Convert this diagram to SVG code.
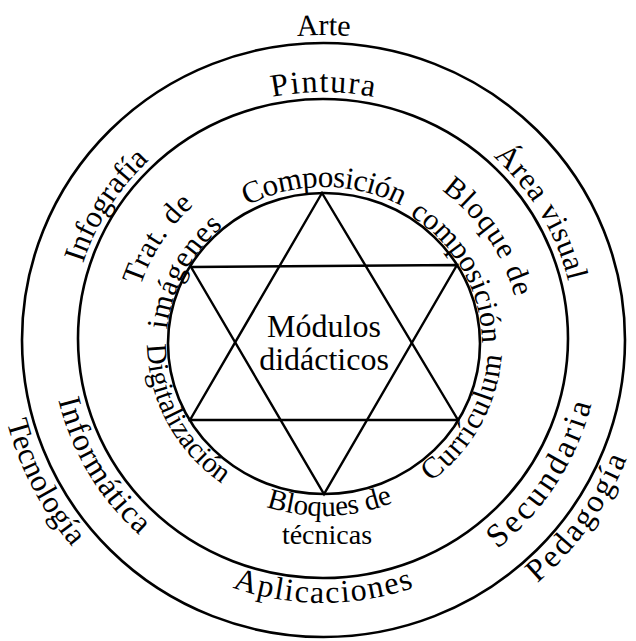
<svg xmlns="http://www.w3.org/2000/svg" width="636" height="641" viewBox="0 0 636 641">
<style>
  .ring { fill: none; stroke: #000; stroke-width: 2.6; }
  .star { fill: none; stroke: #000; stroke-width: 2.4; stroke-linejoin: miter; }
  text { font-family: "Liberation Serif", "Times New Roman", serif; fill: #000; text-anchor: middle; }
  .lo { font-size: 31px; }
  .li { font-size: 30px; }
</style>
<defs>
  <path id="pArte" d="M14,340 A309.5,305 0 0 1 633,340"/>
  <path id="pPintura" d="M71,338.5 A252,246.5 0 0 1 575,338.5"/>
  <path id="pInfografia" d="M191.3,548.7 A252,246.5 0 0 1 454.7,128.3"/>
  <path id="pArea" d="M197,125 A252,246.5 0 0 1 449,552"/>
  <path id="pAplic" d="M53,338.5 A270,264.5 0 0 0 593,338.5"/>
  <path id="pInform" d="M187,107.7 A272,266.5 0 0 0 459,569.3"/>
  <path id="pSecund" d="M175.7,569.6 A278,272.5 0 0 0 470.3,107.4"/>
  <path id="pTecno" d="M174.8,52.2 A327.5,323 0 0 0 472.2,627.8"/>
  <path id="pPedag" d="M134.5,606.2 A329.5,325 0 0 0 512.5,73.8"/>
  <path id="pCompo" d="M162,343.5 A162,156.5 0 0 1 486,343.5"/>
  <path id="pImag" d="M250.9,482 A161,155.5 0 0 1 397.1,205"/>
  <path id="pTrat" d="M220.1,505 A196,190.5 0 0 1 427.9,182"/>
  <path id="pCompo2" d="M249.3,208 A159,153.5 0 0 1 398.7,479"/>
  <path id="pBloque" d="M215.1,180.4 A200,194.5 0 0 1 432.9,506.6"/>
  <path id="pDigit" d="M243.2,189.8 A178,172.5 0 0 0 404.8,497.2"/>
  <path id="pCurri" d="M240.4,495.8 A178,172.5 0 0 0 407.6,191.2"/>
  <path id="pBloques" d="M146.1,349.5 A178,172.5 0 0 0 501.9,337.5"/>
</defs>

<g id="rings">
  <ellipse id="outer-ring" class="ring" cx="323.5" cy="340" rx="301.5" ry="297"/>
  <ellipse id="middle-ring" class="ring" cx="323" cy="338.5" rx="245" ry="239.5"/>
  <ellipse id="inner-ring" class="ring" cx="324" cy="343.5" rx="156" ry="150.5"/>
</g>

<g id="connectors">
  <polygon id="star-up" class="star" points="322,193 190,420 458,420"/>
  <polygon id="star-down" class="star" points="191,267 457,265 324,494"/>
</g>

<g id="outer-labels" class="lo">
  <g id="arte"><text font-size="30"><textPath href="#pArte" startOffset="50%">Arte</textPath></text></g>
  <g id="tecnologia"><text><textPath href="#pTecno" startOffset="50%" textLength="142" lengthAdjust="spacing">Tecnología</textPath></text></g>
  <g id="pedagogia"><text font-size="32"><textPath href="#pPedag" startOffset="50%" textLength="155" lengthAdjust="spacing">Pedagogía</textPath></text></g>
</g>

<g id="ring-labels" class="lo">
  <g id="pintura"><text font-size="32"><textPath href="#pPintura" startOffset="50%" textLength="102" lengthAdjust="spacing">Pintura</textPath></text></g>
  <g id="infografia"><text><textPath href="#pInfografia" startOffset="50%">Infografía</textPath></text></g>
  <g id="area-visual"><text><textPath href="#pArea" startOffset="50%" textLength="148" lengthAdjust="spacing">Área visual</textPath></text></g>
  <g id="informatica"><text font-size="32"><textPath href="#pInform" startOffset="50%" textLength="160" lengthAdjust="spacing">Informática</textPath></text></g>
  <g id="secundaria"><text font-size="33"><textPath href="#pSecund" startOffset="50%" textLength="176" lengthAdjust="spacing">Secundaria</textPath></text></g>
  <g id="aplicaciones"><text font-size="32"><textPath href="#pAplic" startOffset="50%" textLength="185" lengthAdjust="spacing">Aplicaciones</textPath></text></g>
</g>

<g id="inner-labels" class="li">
  <g id="composicion"><text font-size="31"><textPath href="#pCompo" startOffset="50%" textLength="160" lengthAdjust="spacing">Composición</textPath></text></g>
  <g id="trat-imagenes">
    <text><textPath href="#pTrat" startOffset="50%" textLength="98" lengthAdjust="spacing">Trat. de</textPath></text>
    <text><textPath href="#pImag" startOffset="50%" textLength="120" lengthAdjust="spacing">imágenes</textPath></text>
  </g>
  <g id="bloque-composicion">
    <text><textPath href="#pBloque" startOffset="50%" textLength="132" lengthAdjust="spacing">Bloque de</textPath></text>
    <text><textPath href="#pCompo2" startOffset="50%">composición</textPath></text>
  </g>
  <g id="digitalizacion"><text font-size="29"><textPath href="#pDigit" startOffset="50%">Digitalización</textPath></text></g>
  <g id="curriculum"><text><textPath href="#pCurri" startOffset="50%" textLength="150" lengthAdjust="spacing">Currículum</textPath></text></g>
  <g id="bloques-tecnicas">
    <text font-size="29"><textPath href="#pBloques" startOffset="50%">Bloques de</textPath></text>
    <text x="327" y="544" font-size="28">técnicas</text>
  </g>
</g>

<g id="modulos-didacticos" font-size="32">
  <text x="324" y="337">Módulos</text>
  <text x="324" y="370">didácticos</text>
</g>
</svg>
